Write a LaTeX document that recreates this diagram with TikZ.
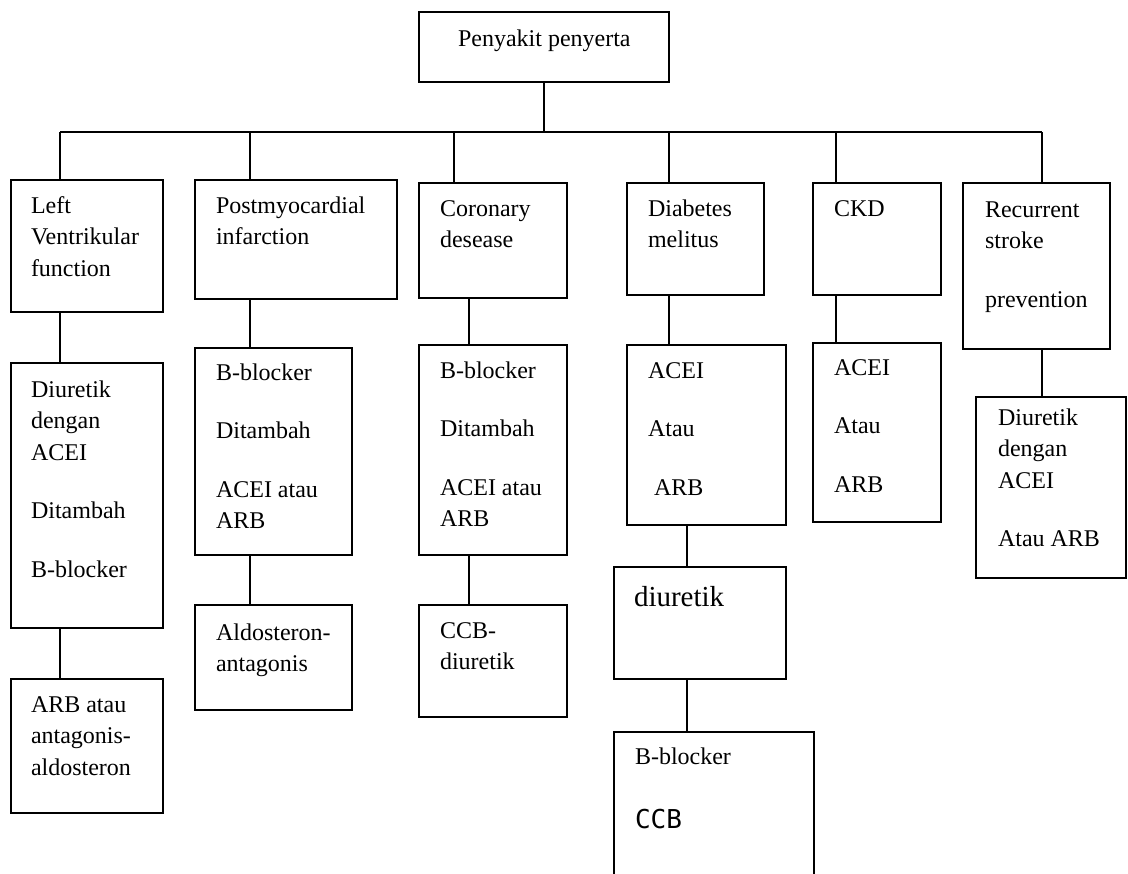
\documentclass[tikz,border=0pt]{standalone}
\usepackage{fontspec}
\setmainfont{Liberation Serif}
\newfontfamily\ccbfont{DejaVu Sans Mono}
\usepackage{tikz}
\newlength{\pxsize}
\setlength{\pxsize}{0.5pt}
\newlength{\blankskip}
\setlength{\blankskip}{13.5pt}
\NewDocumentCommand{\cell}{O{20} O{33} m m m}{%
  \parbox[t][#4\pxsize][t]{#3\pxsize}{%
    \fontsize{12}{15.75}\selectfont
    \vspace*{\dimexpr#2\pxsize-\ht\strutbox\relax}%
    \raggedright\leftskip=#1\pxsize
    \strut#5}}
\tikzset{box/.style = {draw, line width=1pt, anchor=north west, inner sep=0pt, outer sep=0pt}}
\tikzset{edge/.style = {line width=1pt}}

\begin{document}
\begin{tikzpicture}[x=\pxsize, y=-\pxsize]
                \useasboundingbox (0,0) rectangle (1128,873);
                \node[box] (root) at (419,12) {\cell[39][34]{250}{70}{Penyakit penyerta}};
                \coordinate (busl) at (60,132);
                \coordinate (bpm) at (250,132);
                \coordinate (bcd) at (454,132);
                \coordinate (bdm) at (669,132);
                \coordinate (bckd) at (836,132);
                \coordinate (busr) at (1042,132);
                \coordinate (ccd) at (469,132);
                \coordinate (cdm) at (687,132);
                \draw[edge] (root.south) -- (root.south |- busl);
                \draw[edge] (busl) -- (busr);
                \node[box] (lv) at (11,180) {\cell{152}{132}{Left\\Ventrikular\\function}};
                \draw[edge] (busl) -- (busl |- lv.north);
                \node[box] (pm) at (195,180) {\cell[21]{202}{119}{Postmyocardial\\infarction}};
                \draw[edge] (bpm) -- (bpm |- pm.north);
                \node[box] (cd) at (419,183) {\cell[21]{148}{115}{Coronary\\desease}};
                \draw[edge] (bcd) -- (bcd |- cd.north);
                \node[box] (dm) at (627,183) {\cell[21]{137}{112}{Diabetes\\melitus}};
                \draw[edge] (bdm) -- (bdm |- dm.north);
                \node[box] (ckd) at (813,183) {\cell[21]{128}{112}{CKD}};
                \draw[edge] (bckd) -- (bckd |- ckd.north);
                \node[box] (rs) at (963,183) {\cell[22][34]{147}{166}{Recurrent\\stroke\\[\blankskip]prevention}};
                \draw[edge] (busr) -- (busr |- rs.north);
                \node[box] (lv2) at (11,363) {\cell[20][34]{152}{265}{Diuretik\\dengan\\ACEI\\[\blankskip]Ditambah\\[\blankskip]B-blocker}};
                \draw[edge] (lv.south -| busl) -- (lv2.north -| busl);
                \node[box] (pm2) at (195,348) {\cell[21][32]{157}{207}{B-blocker\\[\blankskip]Ditambah\\[\blankskip]ACEI atau\\ARB}};
                \draw[edge] (pm.south -| bpm) -- (pm2.north -| bpm);
                \node[box] (cd2) at (419,345) {\cell[21]{148}{210}{B-blocker\\[\blankskip]Ditambah\\[\blankskip]ACEI atau\\ARB}};
                \draw[edge] (cd.south -| ccd) -- (cd2.north -| ccd);
                \node[box] (dm2) at (627,345) {\cell[21]{159}{180}{ACEI\\[\blankskip]Atau\\[\blankskip]\hspace*{3pt}ARB}};
                \draw[edge] (dm.south -| bdm) -- (dm2.north -| bdm);
                \node[box] (ckd2) at (813,343) {\cell[21][32]{128}{179}{ACEI\\[\blankskip]Atau\\[\blankskip]ARB}};
                \draw[edge] (ckd.south -| bckd) -- (ckd2.north -| bckd);
                \node[box] (rs2) at (976,397) {\cell[22][28]{150}{181}{Diuretik\\dengan\\ACEI\\[\blankskip]Atau ARB}};
                \draw[edge] (rs.south -| busr) -- (rs2.north -| busr);
                \node[box] (lv3) at (11,679) {\cell{152}{134}{ARB atau\\antagonis-\\aldosteron}};
                \draw[edge] (lv2.south -| busl) -- (lv3.north -| busl);
                \node[box] (pm3) at (195,605) {\cell[21][35]{157}{105}{Aldosteron-\\antagonis}};
                \draw[edge] (pm2.south -| bpm) -- (pm3.north -| bpm);
                \node[box] (cd3) at (419,605) {\cell[21]{148}{112}{CCB-\\diuretik}};
                \draw[edge] (cd2.south -| ccd) -- (cd3.north -| ccd);
                \node[box] (dm3) at (614,567) {\cell[20][39]{172}{112}{\fontsize{14.5}{18}\selectfont diuretik}};
                \draw[edge] (dm2.south -| cdm) -- (dm3.north -| cdm);
                \node[box] (dm4) at (614,732) {\cell[21][32]{200}{200}{B-blocker\\[16.25pt]{\ccbfont\fontsize{13}{16}\selectfont CCB}}};
                \draw[edge] (dm3.south -| cdm) -- (dm4.north -| cdm);
            \end{tikzpicture}
\end{document}
